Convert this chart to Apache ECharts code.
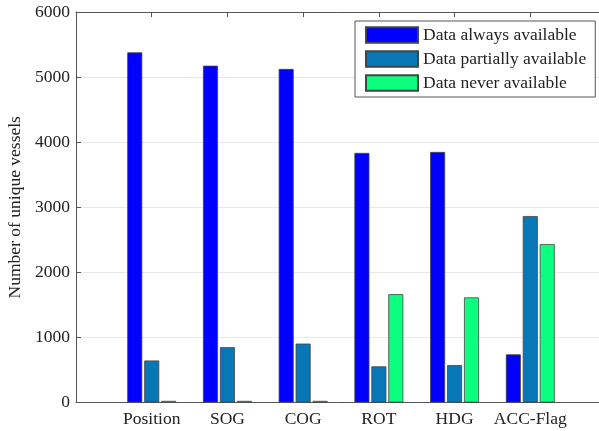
<!DOCTYPE html>
<html>
<head>
<meta charset="utf-8">
<script src="https://cdn.jsdelivr.net/npm/echarts@6/dist/echarts.min.js"></script>
<style>html,body{margin:0;padding:0;background:#fff}#c{width:599px;height:431px}</style>
</head>
<body>
<div id="c"></div>
<script>
var categories = ['Position', 'SOG', 'COG', 'ROT', 'HDG', 'ACC-Flag'];
var seriesNames = ['Data always available', 'Data partially available', 'Data never available'];
var always = [5380, 5175, 5125, 3835, 3850, 740];
var partially = [645, 850, 905, 555, 575, 2865];
var never = [25, 25, 25, 1665, 1615, 2435];
var yTicks = [0, 1000, 2000, 3000, 4000, 5000, 6000];

var colors = ['#0000ff', '#0877b6', '#0dff80'];
var font = '"Liberation Serif", "Times New Roman", serif';

function toData(vals) {
  return vals.map(function (v, i) { return [i + 1, v]; });
}
var allValues = [always, partially, never];

var chart = echarts.init(document.getElementById('c'), null, { renderer: 'canvas' });
chart.setOption({
  animation: false,
  backgroundColor: '#ffffff',
  grid: { left: 76, top: 12, height: 390.5, width: 530, containLabel: false, outerBoundsMode: 'none' },
  legend: {
    orient: 'vertical',
    left: 355, top: 21,
    padding: [5, 9, 5, 10],
    itemWidth: 52, itemHeight: 15.5, itemGap: 6,
    backgroundColor: '#ffffff',
    borderColor: '#555', borderWidth: 1,
    icon: 'rect',
    textStyle: { fontFamily: font, fontSize: 17.5, lineHeight: 15.5, color: '#222' },
    data: seriesNames
  },
  xAxis: [{
    type: 'value', min: 0, max: 7, interval: 1,
    axisLine: { show: true, lineStyle: { color: '#555', width: 1 } },
    axisTick: { show: true, inside: true, length: 5, lineStyle: { color: '#555' } },
    splitLine: { show: false },
    axisLabel: {
      fontFamily: font, fontSize: 17.5, color: '#222', margin: 8,
      formatter: function (v) { return categories[v - 1] || ''; }
    }
  }, {
    type: 'value', min: 0, max: 7, interval: 1, position: 'top',
    axisLine: { show: true, lineStyle: { color: '#555', width: 1 } },
    axisTick: { show: true, inside: true, length: 5, lineStyle: { color: '#555' } },
    splitLine: { show: false },
    axisLabel: { show: false }
  }],
  yAxis: {
    type: 'value', min: yTicks[0], max: yTicks[yTicks.length - 1], interval: 1000,
    name: 'Number of unique vessels', nameLocation: 'middle', nameGap: 52,
    nameTextStyle: { fontFamily: font, fontSize: 17.5, color: '#222' },
    axisLine: { show: true, lineStyle: { color: '#555', width: 1 } },
    axisTick: { show: true, inside: true, length: 5, lineStyle: { color: '#555' } },
    splitLine: { show: true, lineStyle: { color: '#e8e8e8', width: 1 } },
    axisLabel: {
      fontFamily: font, fontSize: 17.5, color: '#222', margin: 6,
      formatter: function (v) { return String(v); }
    }
  },
  series: seriesNames.map(function (name, k) {
    return {
      name: name, type: 'bar', xAxisIndex: 0,
      barWidth: 15, barGap: '13%',
      itemStyle: { color: colors[k], borderColor: '#444', borderWidth: 0.8 },
      data: toData(allValues[k])
    };
  })
});
</script>
</body>
</html>
